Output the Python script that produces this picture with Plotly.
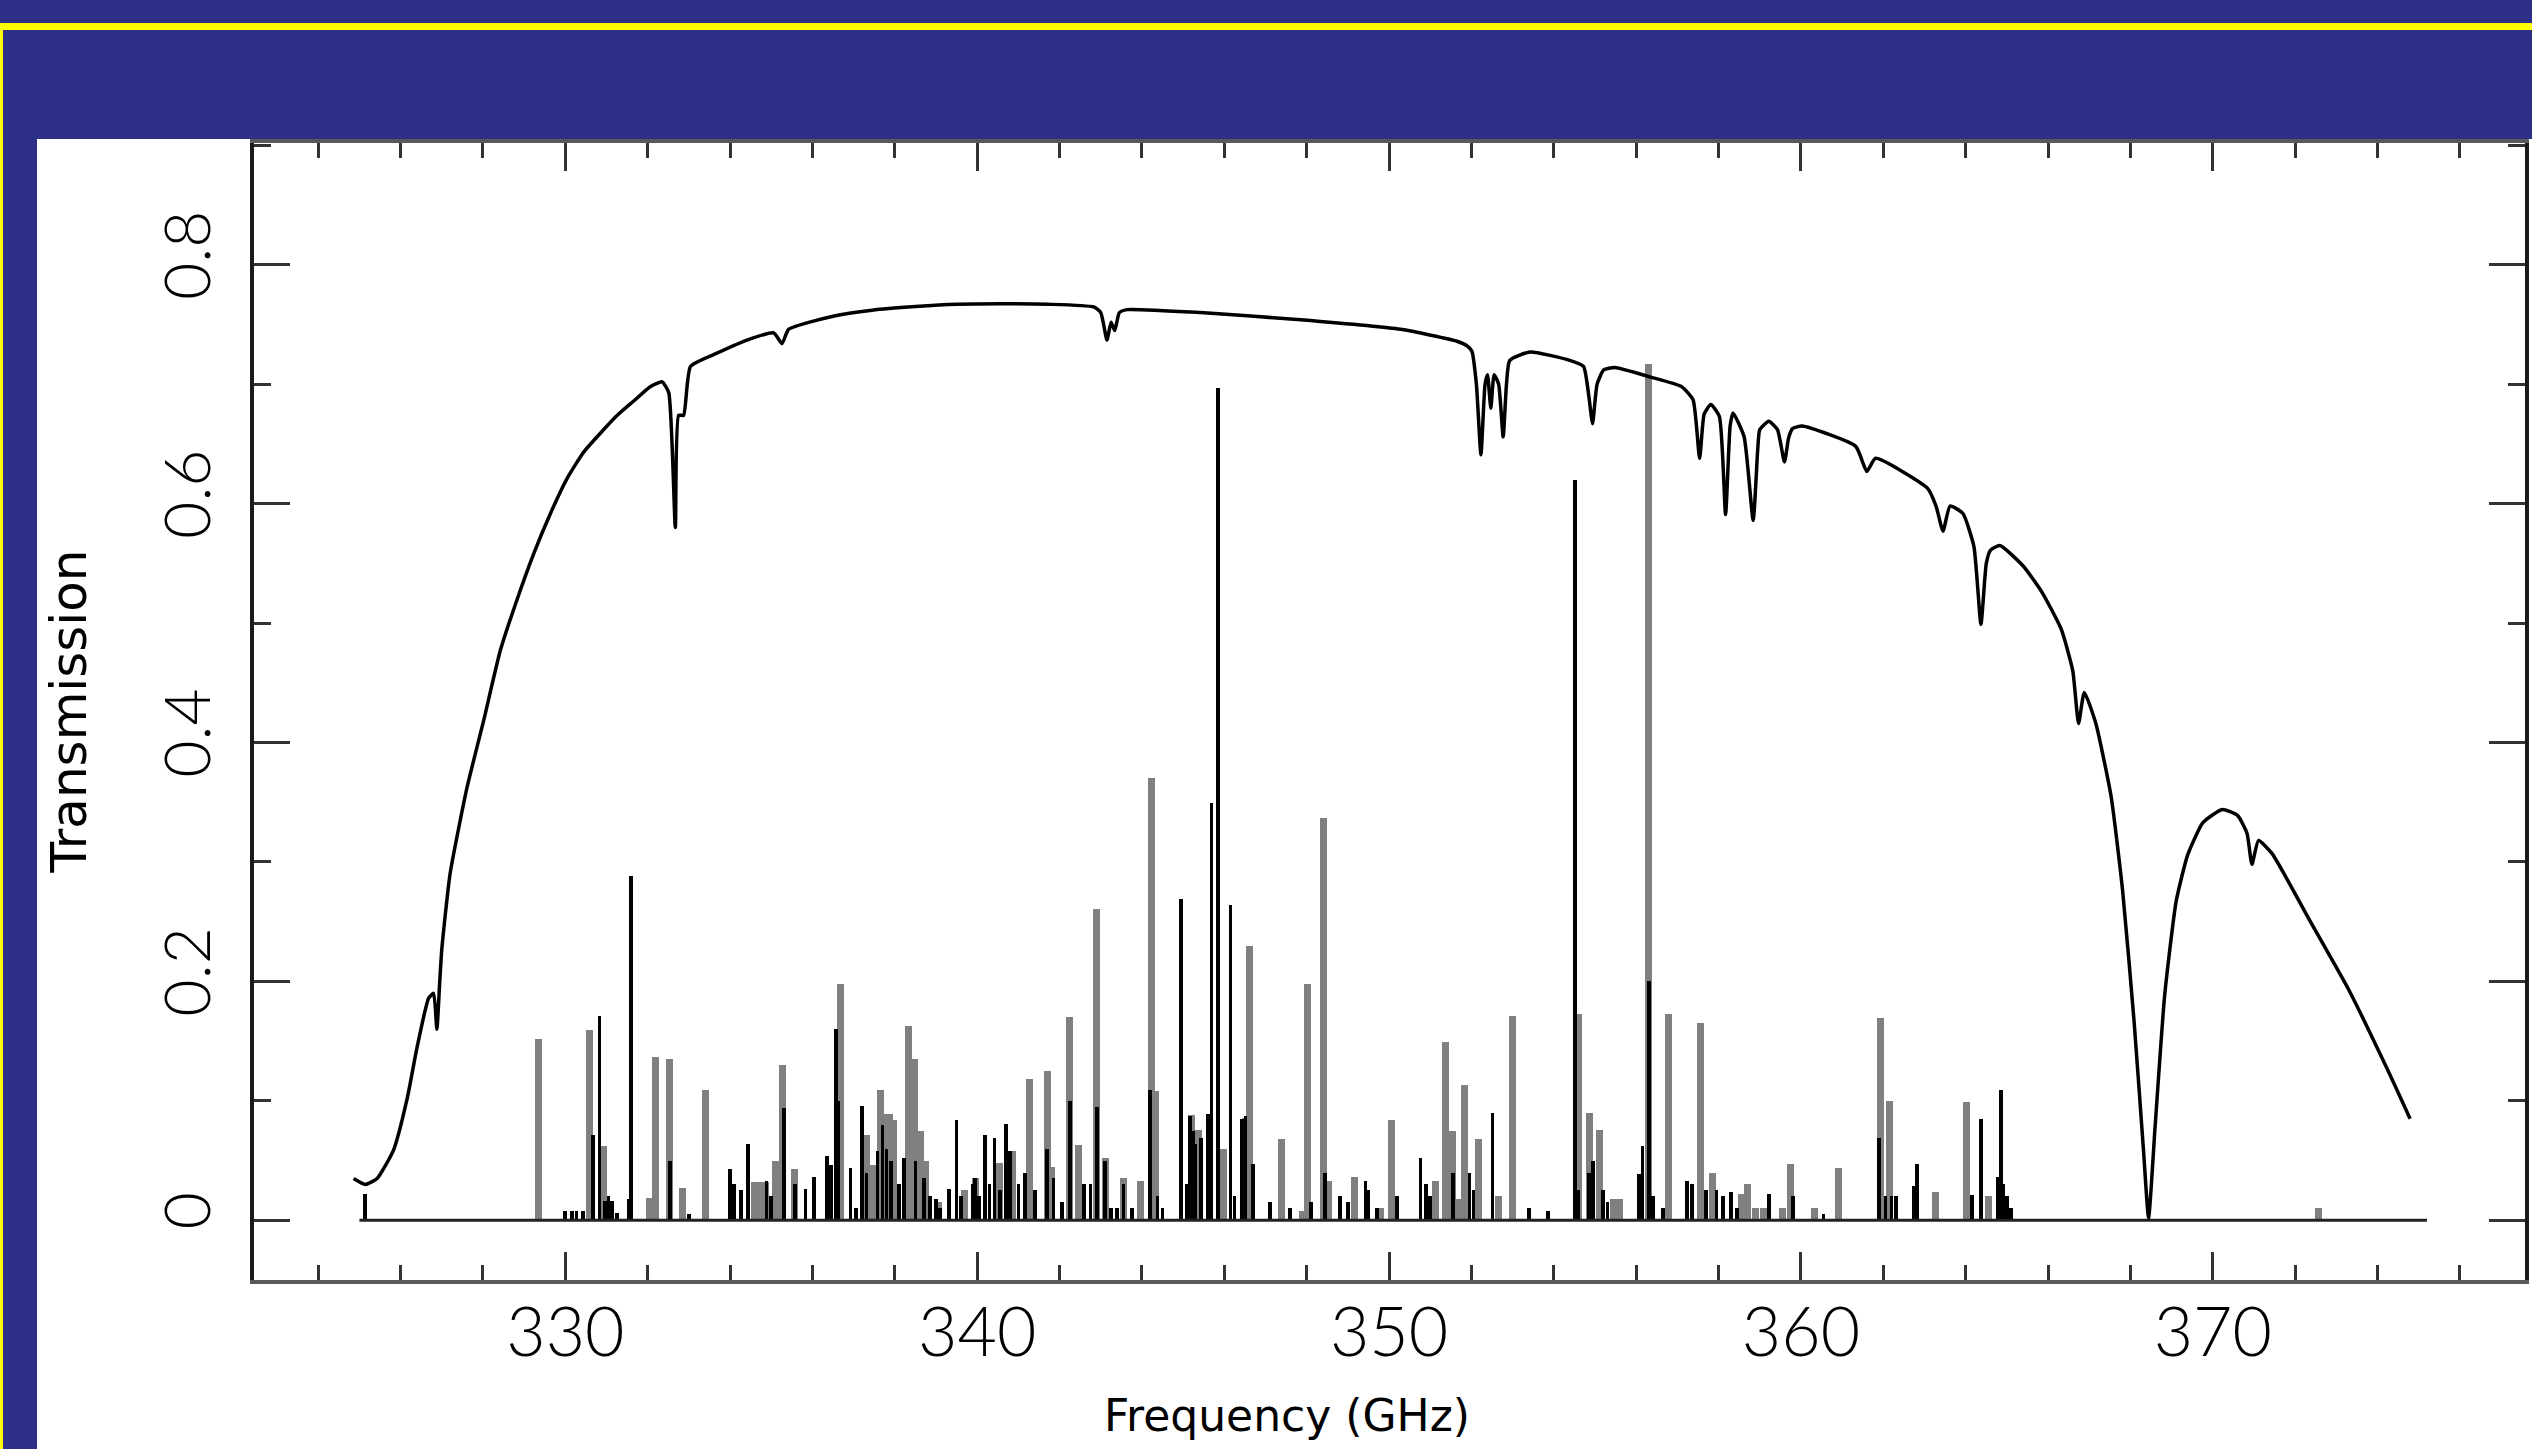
import plotly.graph_objects as go

# ---- Atmospheric transmission curve ----
curve_freq = [324.86, 325.14, 325.43, 325.83, 326.16, 326.40, 326.68, 326.80, 326.88, 326.95,
              327.00, 327.20, 327.61, 328.02, 328.42, 328.83, 329.23, 329.64, 330.04, 330.44,
              330.85, 331.26, 331.66, 332.06, 332.35, 332.51, 332.67, 332.75, 332.87, 333.04,
              333.68, 334.49, 335.06, 335.26, 335.42, 336.50, 337.45, 338.50, 339.50, 340.56,
              341.70, 342.83, 343.00, 343.15, 343.25, 343.34, 343.45, 343.64, 345.42, 347.85,
              350.28, 351.65, 351.90, 352.01, 352.12, 352.23, 352.33, 352.39, 352.47, 352.55,
              352.66, 352.77, 352.85, 352.93, 353.42, 354.39, 354.72, 354.85, 354.94, 355.05,
              355.21, 355.48, 356.35, 357.10, 357.38, 357.54, 357.65, 357.81, 358.02, 358.17,
              358.28, 358.35, 358.62, 358.84, 358.95, 359.00, 359.22, 359.43, 359.60, 359.70,
              359.80, 360.03, 361.33, 361.60, 361.81, 363.07, 363.28, 363.45, 363.62, 363.93,
              364.20, 364.37, 364.50, 364.60, 364.83, 365.39, 365.85, 366.32, 366.60, 366.74,
              366.88, 367.16, 367.53, 367.81, 368.09, 368.32, 368.44, 368.60, 368.83, 369.11,
              369.39, 369.76, 370.23, 370.60, 370.83, 370.95, 371.11, 371.44, 372.37, 373.30,
              374.23, 374.79]
curve_trans = [0.035, 0.030, 0.035, 0.059, 0.102, 0.145, 0.186, 0.190, 0.160, 0.200,
               0.227, 0.290, 0.362, 0.419, 0.477, 0.520, 0.558, 0.592, 0.621, 0.643,
               0.659, 0.674, 0.686, 0.698, 0.702, 0.693, 0.580, 0.674, 0.674, 0.715,
               0.726, 0.738, 0.743, 0.734, 0.746, 0.757, 0.762, 0.765, 0.767, 0.7675,
               0.767, 0.7647, 0.760, 0.737, 0.752, 0.745, 0.760, 0.7625, 0.760, 0.754,
               0.746, 0.736, 0.732, 0.7276, 0.700, 0.641, 0.700, 0.708, 0.680, 0.708,
               0.700, 0.656, 0.700, 0.720, 0.727, 0.720, 0.715, 0.690, 0.667, 0.700,
               0.712, 0.714, 0.706, 0.698, 0.687, 0.638, 0.675, 0.683, 0.673, 0.591,
               0.665, 0.676, 0.656, 0.586, 0.645, 0.662, 0.669, 0.662, 0.635, 0.655,
               0.663, 0.665, 0.648, 0.627, 0.638, 0.613, 0.598, 0.577, 0.598, 0.592,
               0.564, 0.499, 0.550, 0.561, 0.565, 0.548, 0.526, 0.495, 0.460, 0.416,
               0.442, 0.416, 0.355, 0.276, 0.166, 0.057, 0.002, 0.079, 0.188, 0.267,
               0.306, 0.333, 0.344, 0.339, 0.324, 0.298, 0.318, 0.307, 0.250, 0.193,
               0.127, 0.085]

# ---- Baseline of the line spectrum ----
baseline_freq = [325.0, 375.2]
baseline_val = [0.0, 0.0]

# ---- Spectral lines, grey series ----
grey_freq = [329.34, 330.59, 330.92, 332.05, 332.18, 332.54, 332.84, 333.41, 334.59, 334.72,
             334.86, 335.09, 335.28, 335.57, 336.68, 337.31, 337.45, 337.66, 337.75, 337.86,
             337.96, 338.34, 338.48, 338.62, 338.75, 339.05, 339.70, 339.95, 340.55, 340.85,
             341.27, 341.70, 341.80, 342.25, 342.45, 342.90, 343.11, 343.55, 343.96, 344.22,
             344.33, 345.20, 345.38, 345.97, 346.52, 346.62, 347.39, 347.90, 348.03, 348.41,
             348.52, 349.15, 349.80, 350.05, 351.12, 351.36, 351.55, 351.70, 351.82, 352.16,
             352.65, 353.00, 354.61, 354.86, 355.11, 355.45, 355.60, 356.31, 356.78, 357.55,
             357.85, 358.55, 358.70, 358.90, 359.10, 359.55, 359.74, 360.33, 360.92, 361.93,
             362.14, 363.26, 364.03, 364.55, 372.56]
grey_val = [0.152, 0.159, 0.062, 0.019, 0.137, 0.135, 0.027, 0.109, 0.032, 0.032,
            0.032, 0.050, 0.130, 0.043, 0.198, 0.071, 0.046, 0.109, 0.089, 0.089,
            0.084, 0.163, 0.135, 0.075, 0.050, 0.015, 0.025, 0.035, 0.048, 0.058,
            0.118, 0.125, 0.045, 0.170, 0.063, 0.261, 0.052, 0.035, 0.033, 0.370,
            0.108, 0.088, 0.076, 0.060, 0.086, 0.230, 0.068, 0.008, 0.198, 0.337,
            0.033, 0.036, 0.010, 0.084, 0.033, 0.149, 0.075, 0.018, 0.113, 0.068,
            0.020, 0.171, 0.173, 0.090, 0.076, 0.018, 0.018, 0.717, 0.173, 0.165,
            0.040, 0.022, 0.030, 0.010, 0.010, 0.010, 0.047, 0.010, 0.044, 0.169,
            0.100, 0.024, 0.099, 0.020, 0.010]

# ---- Spectral lines, black series ----
black_freq = [325.14, 329.99, 330.16, 330.27, 330.43, 330.67, 330.83, 330.97, 331.05, 331.13,
              331.25, 331.53, 331.60, 332.54, 333.00, 334.00, 334.10, 334.27, 334.44, 334.88,
              335.00, 335.30, 335.57, 335.83, 336.04, 336.36, 336.45, 336.57, 336.63, 336.92,
              337.05, 337.20, 337.31, 337.58, 337.70, 337.80, 337.90, 338.10, 338.23, 338.50,
              338.70, 338.85, 339.00, 339.10, 339.31, 339.50, 339.60, 339.89, 339.95, 340.05,
              340.19, 340.30, 340.42, 340.55, 340.70, 340.80, 341.00, 341.16, 341.40, 341.70,
              341.85, 342.05, 342.25, 342.60, 342.75, 342.90, 343.11, 343.25, 343.40, 343.55,
              343.75, 344.20, 344.38, 344.50, 344.95, 345.10, 345.17, 345.25, 345.30, 345.43,
              345.61, 345.69, 345.84, 346.15, 346.25, 346.42, 346.51, 346.70, 347.10, 347.60,
              348.10, 348.45, 348.80, 349.00, 349.43, 349.50, 349.70, 350.20, 350.76, 350.90,
              351.00, 351.55, 351.95, 352.05, 352.51, 353.40, 353.85, 354.51, 354.60, 354.86,
              354.95, 355.20, 355.30, 356.06, 356.15, 356.31, 356.40, 356.65, 357.24, 357.35,
              357.70, 357.95, 358.10, 358.31, 358.45, 359.22, 359.80, 360.55, 361.90, 362.05,
              362.20, 362.30, 362.75, 362.81, 364.15, 364.38, 364.78, 364.86, 364.92, 365.00,
              365.10]
black_val = [0.022, 0.008, 0.008, 0.008, 0.008, 0.071, 0.171, 0.016, 0.020, 0.016,
             0.006, 0.018, 0.288, 0.050, 0.005, 0.043, 0.030, 0.025, 0.064, 0.033,
             0.020, 0.094, 0.030, 0.026, 0.036, 0.054, 0.046, 0.160, 0.100, 0.044,
             0.010, 0.096, 0.040, 0.058, 0.080, 0.060, 0.050, 0.030, 0.052, 0.050,
             0.035, 0.020, 0.018, 0.010, 0.026, 0.084, 0.020, 0.030, 0.035, 0.020,
             0.071, 0.030, 0.069, 0.025, 0.081, 0.058, 0.030, 0.040, 0.025, 0.060,
             0.035, 0.015, 0.100, 0.030, 0.030, 0.095, 0.050, 0.010, 0.010, 0.030,
             0.010, 0.109, 0.020, 0.010, 0.269, 0.030, 0.087, 0.075, 0.064, 0.069,
             0.089, 0.349, 0.697, 0.264, 0.020, 0.085, 0.087, 0.047, 0.015, 0.010,
             0.015, 0.040, 0.020, 0.015, 0.033, 0.025, 0.010, 0.020, 0.052, 0.030,
             0.020, 0.040, 0.040, 0.025, 0.090, 0.010, 0.008, 0.620, 0.025, 0.040,
             0.050, 0.025, 0.015, 0.039, 0.062, 0.200, 0.020, 0.010, 0.033, 0.030,
             0.025, 0.025, 0.020, 0.024, 0.010, 0.022, 0.020, 0.005, 0.069, 0.020,
             0.020, 0.020, 0.029, 0.047, 0.021, 0.085, 0.036, 0.109, 0.030, 0.020,
             0.010]

x_range = [322.44, 377.58]
y_range = [-0.05, 0.902]
x_major = [330, 340, 350, 360, 370]
x_major_text = ["330", "340", "350", "360", "370"]
y_major = [0, 0.2, 0.4, 0.6, 0.8]
y_major_text = ["0", "0.2", "0.4", "0.6", "0.8"]

NAVY = "#2e2f87"
W, H = 2532, 1449
ML, MR, MT, MB = 254, 7, 143, 169
PW, PH = W - ML - MR, H - MT - MB


def px_x(p):
    return (p - ML) / PW


def px_y(p):
    return (H - MB - p) / PH


fig = go.Figure()
fig.add_trace(go.Bar(x=grey_freq, y=grey_val, width=0.17, marker=dict(color="#808080", line=dict(width=0)),
                     showlegend=False, hoverinfo="skip"))
fig.add_trace(go.Bar(x=black_freq, y=black_val, width=0.09, marker=dict(color="#000000", line=dict(width=0)),
                     showlegend=False, hoverinfo="skip"))
fig.add_trace(go.Scatter(x=baseline_freq, y=baseline_val, mode="lines", line=dict(color="#222222", width=3),
                         showlegend=False, hoverinfo="skip"))
fig.add_trace(go.Scatter(x=curve_freq, y=curve_trans, mode="lines",
                         line=dict(color="#000000", width=3.5, shape="spline", smoothing=0.5),
                         showlegend=False, hoverinfo="skip"))

shapes = [
    dict(type="rect", xref="paper", yref="paper", x0=px_x(37), x1=px_x(W + 5), y0=px_y(H + 5), y1=px_y(139),
         fillcolor="white", line=dict(width=0), layer="below"),
    dict(type="rect", xref="paper", yref="paper", x0=px_x(0), x1=px_x(W + 5), y0=px_y(30), y1=px_y(23),
         fillcolor="#ffff00", line=dict(width=0), layer="below"),
    dict(type="rect", xref="paper", yref="paper", x0=px_x(0), x1=px_x(3), y0=px_y(H + 5), y1=px_y(23),
         fillcolor="#ffff00", line=dict(width=0), layer="below"),
]

fig.update_layout(
    width=W, height=H, autosize=False,
    margin=dict(l=ML, r=MR, t=MT, b=MB, pad=0),
    paper_bgcolor=NAVY, plot_bgcolor="white",
    barmode="overlay", bargap=0,
    template="none",
    shapes=shapes,
    font=dict(family="DejaVu Sans", color="black"),
    annotations=[
        dict(text="Frequency (GHz)", xref="paper", yref="paper", x=px_x(1287), y=px_y(1415),
             xanchor="center", yanchor="middle", showarrow=False,
             font=dict(family="DejaVu Sans", size=44, color="black")),
        dict(text="Transmission", xref="paper", yref="paper", x=px_x(68), y=0.5, textangle=-90,
             xanchor="center", yanchor="middle", showarrow=False,
             font=dict(family="DejaVu Sans", size=50, color="black")),
    ],
)

fig.update_xaxes(
    range=x_range, showgrid=False, zeroline=False,
    showline=True, linecolor="#5a5a5a", linewidth=4, mirror="ticks",
    tickmode="array", tickvals=x_major, ticktext=x_major_text,
    ticks="inside", ticklen=28, tickwidth=3, tickcolor="#333333",
    minor=dict(dtick=2, tick0=330, ticks="inside", ticklen=15, tickwidth=3, tickcolor="#333333", showgrid=False),
    tickfont=dict(family="Lato", size=68, color="black", weight=300),
    ticklabelstandoff=-10,
)
fig.update_yaxes(
    range=y_range, showgrid=False, zeroline=False,
    showline=True, linecolor="#1a1a1a", linewidth=4, mirror="ticks",
    tickmode="array", tickvals=y_major, ticktext=y_major_text,
    ticks="inside", ticklen=36, tickwidth=3, tickcolor="#333333",
    minor=dict(dtick=0.1, tick0=0, ticks="inside", ticklen=17, tickwidth=3, tickcolor="#333333", showgrid=False),
    tickangle=-90,
    tickfont=dict(family="Lato", size=64, color="black", weight=300),
    ticklabelstandoff=14,
)

fig.write_html("out.html")
